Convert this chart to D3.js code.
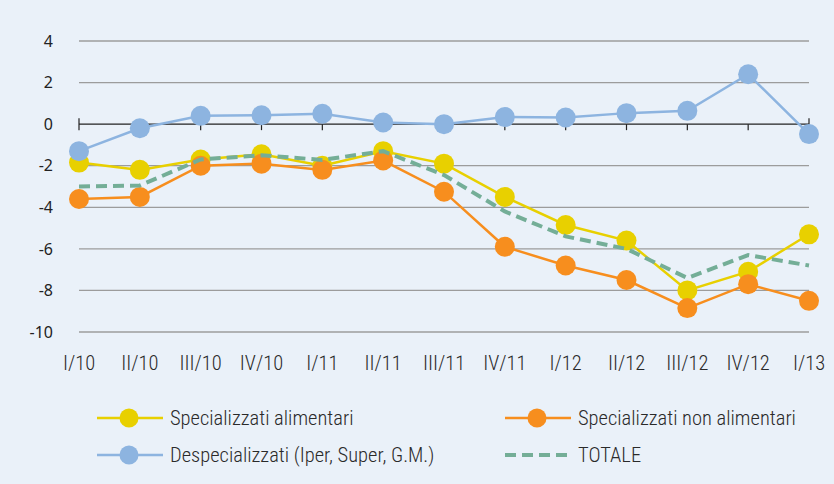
<!DOCTYPE html>
<html>
<head>
<meta charset="utf-8">
<script src="https://cdn.jsdelivr.net/npm/d3@7"></script>
<style>
  body { margin: 0; background: #eaf1f9; }
  svg { display: block; }
  .ylab { font-family: "Noto Sans", sans-serif; font-size: 16px; fill: #222; }
  .xlab, .leg { font-family: "Roboto Condensed", "Liberation Sans Narrow", sans-serif; font-weight: 300; font-size: 20.5px; fill: #2a2a2a; }
</style>
</head>
<body>
<svg width="834" height="484"></svg>
<script>
// quarters on the x axis
var quarters = ["I/10", "II/10", "III/10", "IV/10", "I/11", "II/11", "III/11", "IV/11", "I/12", "II/12", "III/12", "IV/12", "I/13"]
var yTicks = [4, 2, 0, -2, -4, -6, -8, -10]

// values
var alimentari = [-1.85, -2.2, -1.7, -1.45, -2.0, -1.3, -1.9, -3.5, -4.85, -5.6, -8.0, -7.1, -5.3]
var nonAlimentari = [-3.6, -3.5, -2.0, -1.9, -2.2, -1.75, -3.25, -5.9, -6.8, -7.5, -8.85, -7.7, -8.5]
var despecializzati = [-1.3, -0.2, 0.4, 0.43, 0.5, 0.08, 0.0, 0.34, 0.32, 0.53, 0.64, 2.4, -0.48]
var totale = [-3.0, -2.95, -1.7, -1.5, -1.72, -1.3, -2.45, -4.2, -5.4, -6.0, -7.4, -6.3, -6.8]

var svg = d3.select("svg"),
	plotLeft = 79, plotRight = 809, plotTop = 41, plotBottom = 332

var x = d3.scalePoint().domain(quarters).range([plotLeft, plotRight])
var y = d3.scaleLinear().domain([4, -10]).range([plotTop, plotBottom])

svg.append("rect").attr("width", 834).attr("height", 484).attr("fill", "#eaf1f9")

// horizontal gridlines
svg.selectAll(".grid")
	.data(yTicks.filter(function(d) { return d != 0 }))
	.enter().append("line")
		.attr("x1", plotLeft).attr("x2", plotRight)
		.attr("y1", function(d) { return y(d) }).attr("y2", function(d) { return y(d) })
		.attr("stroke", "#9c9c9c").attr("stroke-width", 1.3)

// y labels
svg.selectAll(".ylab")
	.data(yTicks)
	.enter().append("text")
		.attr("class", "ylab")
		.attr("x", 53).attr("y", function(d) { return y(d) })
		.attr("dy", "0.36em")
		.attr("text-anchor", "end")
		.text(function(d) { return d })

// zero axis with ticks
var axis = svg.append("g").attr("transform", "translate(0," + y(0) + ")")
axis.append("line").attr("x1", plotLeft).attr("x2", plotRight).attr("stroke", "#222").attr("stroke-width", 1.2)
axis.selectAll(".tick")
	.data(quarters)
	.enter().append("line")
		.attr("x1", function(d) { return x(d) }).attr("x2", function(d) { return x(d) })
		.attr("y1", function(d, i) { return (i == 0 || i == quarters.length - 1) ? -6 : 0 })
		.attr("y2", 6)
		.attr("stroke", "#222").attr("stroke-width", 1.2)

// x labels
svg.selectAll(".xlab")
	.data(quarters)
	.enter().append("text")
		.attr("class", "xlab")
		.attr("x", function(d) { return x(d) }).attr("y", 370)
		.attr("text-anchor", "middle")
		.text(function(d) { return d })

var line = d3.line()
	.x(function(d, i) { return x(quarters[i]) })
	.y(function(d) { return y(d) })

var series = [
	{ values: alimentari, color: "#e8d000" },
	{ values: nonAlimentari, color: "#f78e1e" },
	{ values: despecializzati, color: "#8db4e0" }
]

series.forEach(function(s) {
	svg.append("path")
		.attr("d", line(s.values))
		.attr("fill", "none")
		.attr("stroke", s.color)
		.attr("stroke-width", 2.5)
	svg.selectAll(null)
		.data(s.values)
		.enter().append("circle")
			.attr("cx", function(d, i) { return x(quarters[i]) })
			.attr("cy", function(d) { return y(d) })
			.attr("r", 10)
			.attr("fill", s.color)
})

// TOTALE dashed, on top
svg.append("path")
	.attr("d", line(totale))
	.attr("fill", "none")
	.attr("stroke", "#74ae97")
	.attr("stroke-width", 4)
	.attr("stroke-dasharray", "11,6")

// legend
var legend = [
	{ name: "Specializzati alimentari", color: "#e8d000", x: 97, y: 418, dot: true },
	{ name: "Specializzati non alimentari", color: "#f78e1e", x: 505, y: 418, dot: true },
	{ name: "Despecializzati (Iper, Super, G.M.)", color: "#8db4e0", x: 97, y: 455, dot: true },
	{ name: "TOTALE", color: "#74ae97", x: 505, y: 455, dot: false }
]

legend.forEach(function(l) {
	var g = svg.append("g")
	g.append("line")
		.attr("x1", l.x).attr("x2", l.x + 66)
		.attr("y1", l.y).attr("y2", l.y)
		.attr("stroke", l.color)
		.attr("stroke-width", l.dot ? 2.5 : 4)
		.attr("stroke-dasharray", l.dot ? null : "11,6")
	if (l.dot) {
		g.append("circle").attr("cx", l.x + 32).attr("cy", l.y).attr("r", 9.5).attr("fill", l.color)
	}
	g.append("text")
		.attr("class", "leg")
		.attr("x", l.x + 73).attr("y", l.y)
		.attr("dy", "0.35em")
		.text(l.name)
})
</script>
</body>
</html>
